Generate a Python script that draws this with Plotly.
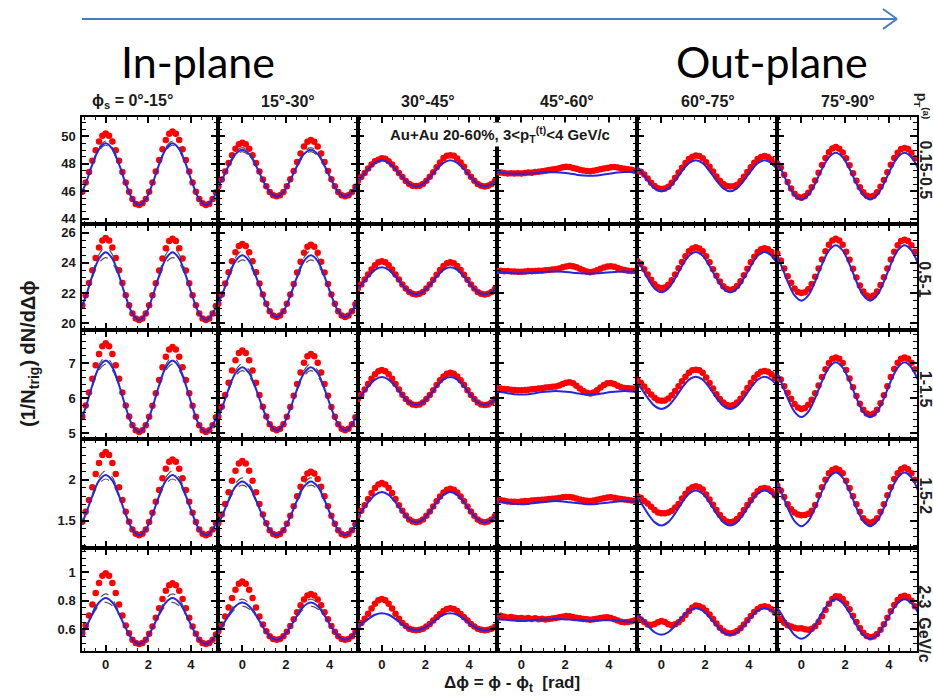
import plotly.graph_objects as go

# ---------------- data ----------------
dphi_pts = [-1.100, -0.942, -0.785, -0.628, -0.471, -0.314, -0.157, 0.0, 0.157, 0.314, 0.471, 0.628,
            0.785, 0.942, 1.100, 1.257, 1.414, 1.571, 1.728, 1.885, 2.042, 2.199, 2.356, 2.513,
            2.670, 2.827, 2.985, 3.142, 3.299, 3.456, 3.613, 3.770, 3.927, 4.084, 4.241, 4.398,
            4.555, 4.712, 4.869, 5.027, 5.184]
dphi_fit = [-1.257, -0.942, -0.628, -0.314, 0.0, 0.314, 0.628, 0.942, 1.257, 1.571, 1.885,
            2.199, 2.513, 2.827, 3.142, 3.456, 3.770, 4.084, 4.398, 4.712, 5.027, 5.341]
dphi_sys = [-0.628, -0.314, 0.0, 0.314, 0.628, None, 2.513, 2.827, 3.142, 3.456, 3.770]

phi_s_labels = ["ϕ<sub>s</sub> = 0°-15°", "15°-30°", "30°-45°", "45°-60°", "60°-75°", "75°-90°"]
pta_labels = ["0.15-0.5", "0.5-1", "1-1.5", "1.5-2", "2-3\u00a0\u00a0GeV/c"]
y_ranges = [[43.59, 51.43], [19.54, 26.55], [4.82, 7.94], [1.165, 2.495], [0.443, 1.172]]
y_major = [2, 2, 1, 0.5, 0.2]
y_minor = [0.5, 0.5, 0.2, 0.1, 0.05]

red_r1 = [
    [45.97, 46.63, 47.40, 48.22, 48.98, 49.62, 50.05, 50.20, 50.05, 49.62, 48.98, 48.22, 47.40, 46.63, 45.97, 45.43, 45.08, 45.00, 45.13, 45.43, 45.97, 46.64, 47.44, 48.27, 49.06, 49.73, 50.19, 50.35, 50.19, 49.73, 49.06, 48.27, 47.44, 46.64, 45.97, 45.43, 45.13, 45.00, 45.09, 45.43, 45.93],
    [46.36, 46.86, 47.44, 48.05, 48.62, 49.10, 49.42, 49.53, 49.42, 49.10, 48.62, 48.05, 47.44, 46.86, 46.36, 45.95, 45.71, 45.63, 45.71, 45.95, 46.37, 46.88, 47.48, 48.13, 48.74, 49.26, 49.61, 49.73, 49.61, 49.26, 48.74, 48.13, 47.48, 46.88, 46.37, 45.95, 45.71, 45.63, 45.71, 45.95, 46.33],
    [46.75, 47.03, 47.33, 47.65, 47.95, 48.19, 48.30, 48.40, 48.37, 48.19, 47.95, 47.65, 47.33, 47.03, 46.75, 46.53, 46.40, 46.38, 46.40, 46.53, 46.76, 47.05, 47.39, 47.74, 48.09, 48.42, 48.58, 48.62, 48.58, 48.38, 48.09, 47.78, 47.39, 47.05, 46.76, 46.53, 46.40, 46.35, 46.40, 46.53, 46.74],
    [47.38, 47.36, 47.33, 47.30, 47.31, 47.29, 47.32, 47.30, 47.33, 47.36, 47.35, 47.40, 47.42, 47.46, 47.50, 47.55, 47.58, 47.62, 47.68, 47.74, 47.78, 47.76, 47.70, 47.63, 47.57, 47.52, 47.48, 47.46, 47.50, 47.55, 47.60, 47.65, 47.70, 47.74, 47.76, 47.73, 47.68, 47.64, 47.60, 47.56, 47.50],
    [47.50, 47.42, 47.22, 46.92, 46.62, 46.38, 46.22, 46.17, 46.20, 46.33, 46.62, 46.98, 47.36, 47.72, 48.06, 48.34, 48.52, 48.60, 48.56, 48.40, 48.12, 47.78, 47.43, 47.08, 46.76, 46.52, 46.38, 46.34, 46.37, 46.48, 46.72, 47.05, 47.40, 47.75, 48.08, 48.34, 48.50, 48.56, 48.50, 48.32, 48.02],
    [48.00, 47.73, 47.20, 46.67, 46.20, 45.82, 45.60, 45.53, 45.63, 45.89, 46.30, 46.79, 47.35, 47.91, 48.42, 48.84, 49.12, 49.22, 49.10, 48.83, 48.40, 47.89, 47.32, 46.77, 46.30, 45.92, 45.68, 45.60, 45.68, 45.92, 46.32, 46.82, 47.38, 47.93, 48.42, 48.81, 49.07, 49.15, 49.07, 48.81, 48.40],
]
blue_r1 = [
    [45.43, 46.55, 47.95, 49.07, 49.50, 49.07, 47.95, 46.55, 45.43, 45.00, 45.43, 46.55, 47.95, 49.07, 49.50, 49.07, 47.95, 46.55, 45.43, 45.00, 45.43, 46.55],
    [45.95, 46.80, 47.86, 48.71, 49.03, 48.71, 47.86, 46.80, 45.95, 45.63, 45.95, 46.80, 47.86, 48.71, 49.03, 48.71, 47.86, 46.80, 45.95, 45.63, 45.95, 46.80],
    [46.53, 47.01, 47.59, 48.07, 48.25, 48.07, 47.59, 47.01, 46.53, 46.35, 46.53, 47.01, 47.59, 48.07, 48.25, 48.07, 47.59, 47.01, 46.53, 46.35, 46.53, 47.01],
    [47.38, 47.35, 47.31, 47.28, 47.27, 47.28, 47.32, 47.36, 47.38, 47.38, 47.35, 47.29, 47.21, 47.15, 47.12, 47.15, 47.22, 47.30, 47.37, 47.40, 47.39, 47.37],
    [48.04, 47.47, 46.78, 46.21, 46.00, 46.21, 46.78, 47.47, 48.04, 48.25, 48.04, 47.47, 46.78, 46.21, 46.00, 46.21, 46.78, 47.47, 48.04, 48.25, 48.04, 47.47],
    [48.48, 47.63, 46.57, 45.72, 45.40, 45.72, 46.57, 47.63, 48.48, 48.80, 48.48, 47.63, 46.57, 45.72, 45.40, 45.72, 46.57, 47.63, 48.48, 48.80, 48.48, 47.63],
]
red_r2 = [
    [21.18, 21.85, 22.66, 23.51, 24.32, 25.01, 25.48, 25.65, 25.48, 25.01, 24.32, 23.51, 22.66, 21.85, 21.18, 20.63, 20.31, 20.20, 20.31, 20.63, 21.18, 21.85, 22.65, 23.49, 24.29, 24.97, 25.44, 25.60, 25.44, 24.97, 24.29, 23.49, 22.65, 21.85, 21.18, 20.63, 20.31, 20.20, 20.31, 20.63, 21.13],
    [21.29, 21.90, 22.62, 23.37, 24.10, 24.70, 25.11, 25.25, 25.11, 24.70, 24.10, 23.37, 22.62, 21.90, 21.29, 20.79, 20.50, 20.40, 20.50, 20.79, 21.29, 21.90, 22.60, 23.35, 24.07, 24.66, 25.06, 25.20, 25.06, 24.66, 24.07, 23.35, 22.60, 21.90, 21.29, 20.79, 20.50, 20.40, 20.50, 20.79, 21.25],
    [22.29, 22.56, 22.89, 23.23, 23.56, 23.84, 24.04, 24.10, 24.04, 23.84, 23.56, 23.23, 22.89, 22.56, 22.29, 22.07, 21.94, 21.90, 21.94, 22.07, 22.29, 22.56, 22.87, 23.21, 23.52, 23.79, 23.97, 24.03, 23.97, 23.79, 23.52, 23.21, 22.87, 22.56, 22.29, 22.07, 21.94, 21.90, 21.94, 22.07, 22.27],
    [23.45, 23.47, 23.44, 23.46, 23.43, 23.42, 23.40, 23.41, 23.43, 23.45, 23.44, 23.46, 23.48, 23.47, 23.50, 23.52, 23.55, 23.58, 23.63, 23.70, 23.76, 23.80, 23.78, 23.70, 23.60, 23.50, 23.42, 23.38, 23.42, 23.50, 23.60, 23.69, 23.75, 23.77, 23.74, 23.66, 23.58, 23.52, 23.48, 23.46, 23.45],
    [24.10, 23.94, 23.58, 23.22, 22.87, 22.58, 22.38, 22.31, 22.36, 22.54, 22.84, 23.22, 23.64, 24.06, 24.44, 24.76, 24.95, 25.03, 24.95, 24.76, 24.43, 24.03, 23.58, 23.15, 22.76, 22.45, 22.26, 22.20, 22.26, 22.46, 22.78, 23.17, 23.60, 24.03, 24.41, 24.72, 24.90, 24.97, 24.90, 24.72, 24.41],
    [24.61, 24.15, 23.63, 23.11, 22.67, 22.30, 22.06, 21.99, 22.04, 22.24, 22.60, 23.08, 23.63, 24.22, 24.76, 25.20, 25.48, 25.59, 25.48, 25.20, 24.74, 24.20, 23.61, 23.02, 22.50, 22.09, 21.83, 21.74, 21.83, 22.09, 22.52, 23.04, 23.63, 24.22, 24.74, 25.17, 25.44, 25.53, 25.44, 25.17, 24.73],
]
blue_r2 = [
    [20.63, 21.75, 23.15, 24.27, 24.70, 24.27, 23.15, 21.75, 20.63, 20.20, 20.63, 21.75, 23.15, 24.27, 24.70, 24.27, 23.15, 21.75, 20.63, 20.20, 20.63, 21.75],
    [20.79, 21.82, 23.08, 24.11, 24.50, 24.11, 23.08, 21.82, 20.79, 20.40, 20.79, 21.82, 23.08, 24.11, 24.50, 24.11, 23.08, 21.82, 20.79, 20.40, 20.79, 21.82],
    [22.07, 22.52, 23.08, 23.53, 23.70, 23.53, 23.08, 22.52, 22.07, 21.90, 22.07, 22.52, 23.08, 23.53, 23.70, 23.53, 23.08, 22.52, 22.07, 21.90, 22.07, 22.52],
    [23.40, 23.37, 23.34, 23.31, 23.30, 23.31, 23.35, 23.39, 23.42, 23.42, 23.41, 23.37, 23.32, 23.29, 23.28, 23.30, 23.34, 23.38, 23.41, 23.42, 23.41, 23.39],
    [24.46, 23.79, 22.97, 22.30, 22.05, 22.30, 22.97, 23.79, 24.46, 24.71, 24.46, 23.79, 22.97, 22.30, 22.05, 22.30, 22.97, 23.79, 24.46, 24.71, 24.46, 23.79],
    [24.82, 23.90, 22.76, 21.84, 21.49, 21.84, 22.76, 23.90, 24.82, 25.17, 24.82, 23.90, 22.76, 21.84, 21.49, 21.84, 22.76, 23.90, 24.82, 25.17, 24.82, 23.90],
]
red_r3 = [
    [5.475, 5.789, 6.158, 6.551, 6.934, 7.257, 7.481, 7.560, 7.481, 7.257, 6.934, 6.551, 6.158, 5.789, 5.475, 5.225, 5.080, 5.030, 5.080, 5.225, 5.470, 5.778, 6.136, 6.513, 6.876, 7.179, 7.387, 7.460, 7.387, 7.179, 6.876, 6.513, 6.136, 5.778, 5.470, 5.225, 5.080, 5.030, 5.080, 5.225, 5.450],
    [5.475, 5.755, 6.086, 6.440, 6.787, 7.082, 7.287, 7.360, 7.287, 7.082, 6.787, 6.440, 6.086, 5.755, 5.475, 5.252, 5.124, 5.080, 5.124, 5.252, 5.470, 5.744, 6.064, 6.402, 6.729, 7.004, 7.193, 7.260, 7.193, 7.004, 6.729, 6.402, 6.064, 5.744, 5.470, 5.252, 5.124, 5.080, 5.124, 5.252, 5.451],
    [5.975, 6.098, 6.244, 6.400, 6.551, 6.680, 6.768, 6.800, 6.768, 6.680, 6.551, 6.400, 6.244, 6.098, 5.975, 5.876, 5.820, 5.800, 5.820, 5.876, 5.971, 6.089, 6.226, 6.370, 6.505, 6.618, 6.693, 6.720, 6.693, 6.618, 6.505, 6.370, 6.226, 6.089, 5.971, 5.876, 5.820, 5.800, 5.820, 5.876, 5.965],
    [6.28, 6.27, 6.26, 6.25, 6.24, 6.23, 6.22, 6.22, 6.23, 6.24, 6.25, 6.26, 6.27, 6.28, 6.30, 6.31, 6.32, 6.33, 6.36, 6.40, 6.44, 6.45, 6.42, 6.35, 6.27, 6.20, 6.15, 6.13, 6.16, 6.22, 6.30, 6.37, 6.42, 6.43, 6.40, 6.35, 6.31, 6.29, 6.28, 6.27, 6.27],
    [6.52, 6.44, 6.33, 6.21, 6.10, 6.01, 5.94, 5.92, 5.93, 5.99, 6.08, 6.20, 6.34, 6.48, 6.61, 6.72, 6.79, 6.81, 6.79, 6.72, 6.59, 6.43, 6.27, 6.11, 5.97, 5.87, 5.80, 5.78, 5.80, 5.87, 5.98, 6.13, 6.29, 6.44, 6.58, 6.68, 6.75, 6.77, 6.75, 6.68, 6.57],
    [6.58, 6.53, 6.34, 6.15, 5.98, 5.83, 5.73, 5.69, 5.72, 5.81, 5.95, 6.14, 6.36, 6.60, 6.82, 7.00, 7.12, 7.16, 7.12, 7.00, 6.80, 6.56, 6.31, 6.06, 5.84, 5.67, 5.56, 5.52, 5.56, 5.67, 5.85, 6.08, 6.34, 6.60, 6.83, 7.01, 7.12, 7.16, 7.12, 7.01, 6.82],
]
blue_r3 = [
    [5.225, 5.735, 6.365, 6.875, 7.070, 6.875, 6.365, 5.735, 5.225, 5.030, 5.225, 5.735, 6.365, 6.875, 7.070, 6.875, 6.365, 5.735, 5.225, 5.030, 5.225, 5.735],
    [5.252, 5.702, 6.258, 6.708, 6.880, 6.708, 6.258, 5.702, 5.252, 5.080, 5.252, 5.702, 6.258, 6.708, 6.880, 6.708, 6.258, 5.702, 5.252, 5.080, 5.252, 5.702],
    [5.876, 6.076, 6.324, 6.524, 6.600, 6.524, 6.324, 6.076, 5.876, 5.800, 5.876, 6.076, 6.324, 6.524, 6.600, 6.524, 6.324, 6.076, 5.876, 5.800, 5.876, 6.076],
    [6.19, 6.17, 6.14, 6.11, 6.10, 6.11, 6.14, 6.17, 6.19, 6.20, 6.19, 6.17, 6.14, 6.11, 6.10, 6.11, 6.14, 6.17, 6.19, 6.20, 6.19, 6.17],
    [6.522, 6.292, 6.008, 5.778, 5.690, 5.778, 6.008, 6.292, 6.522, 6.610, 6.522, 6.292, 6.008, 5.778, 5.690, 5.778, 6.008, 6.292, 6.522, 6.610, 6.522, 6.292],
    [6.871, 6.481, 5.999, 5.609, 5.460, 5.609, 5.999, 6.481, 6.871, 7.020, 6.871, 6.481, 5.999, 5.609, 5.460, 5.609, 5.999, 6.481, 6.871, 7.020, 6.871, 6.481],
]
red_r4 = [
    [1.486, 1.607, 1.752, 1.910, 2.070, 2.207, 2.305, 2.340, 2.305, 2.207, 2.070, 1.910, 1.752, 1.607, 1.486, 1.391, 1.338, 1.320, 1.338, 1.391, 1.482, 1.597, 1.732, 1.876, 2.018, 2.137, 2.221, 2.250, 2.221, 2.137, 2.018, 1.876, 1.732, 1.597, 1.482, 1.391, 1.338, 1.320, 1.338, 1.391, 1.472],
    [1.469, 1.576, 1.705, 1.847, 1.989, 2.112, 2.199, 2.230, 2.199, 2.112, 1.989, 1.847, 1.705, 1.576, 1.469, 1.383, 1.336, 1.320, 1.336, 1.383, 1.462, 1.561, 1.676, 1.798, 1.914, 2.011, 2.077, 2.100, 2.077, 2.011, 1.914, 1.798, 1.676, 1.561, 1.462, 1.383, 1.336, 1.320, 1.336, 1.383, 1.456],
    [1.562, 1.620, 1.689, 1.764, 1.838, 1.901, 1.944, 1.960, 1.944, 1.901, 1.838, 1.764, 1.689, 1.620, 1.562, 1.515, 1.489, 1.480, 1.489, 1.515, 1.558, 1.612, 1.674, 1.737, 1.797, 1.846, 1.879, 1.890, 1.879, 1.846, 1.797, 1.737, 1.674, 1.612, 1.558, 1.515, 1.489, 1.480, 1.489, 1.515, 1.556],
    [1.745, 1.748, 1.742, 1.735, 1.730, 1.732, 1.728, 1.735, 1.740, 1.738, 1.745, 1.750, 1.752, 1.755, 1.760, 1.765, 1.768, 1.772, 1.778, 1.785, 1.790, 1.788, 1.782, 1.770, 1.760, 1.750, 1.742, 1.740, 1.745, 1.755, 1.765, 1.775, 1.782, 1.785, 1.780, 1.772, 1.765, 1.758, 1.752, 1.745, 1.742],
    [1.80, 1.78, 1.74, 1.71, 1.67, 1.63, 1.60, 1.59, 1.59, 1.60, 1.62, 1.66, 1.705, 1.77, 1.83, 1.88, 1.91, 1.92, 1.91, 1.88, 1.82, 1.76, 1.695, 1.63, 1.57, 1.52, 1.49, 1.48, 1.49, 1.52, 1.57, 1.63, 1.69, 1.75, 1.81, 1.86, 1.89, 1.90, 1.89, 1.86, 1.81],
    [1.93, 1.87, 1.79, 1.70, 1.64, 1.60, 1.575, 1.565, 1.57, 1.585, 1.62, 1.69, 1.81, 1.91, 2.00, 2.08, 2.12, 2.14, 2.12, 2.08, 1.99, 1.90, 1.80, 1.70, 1.61, 1.53, 1.49, 1.47, 1.49, 1.53, 1.61, 1.70, 1.81, 1.91, 2.01, 2.08, 2.13, 2.15, 2.13, 2.08, 2.00],
]
blue_r4 = [
    [1.391, 1.576, 1.804, 1.989, 2.060, 1.989, 1.804, 1.576, 1.391, 1.320, 1.391, 1.576, 1.804, 1.989, 2.060, 1.989, 1.804, 1.576, 1.391, 1.320, 1.391, 1.576],
    [1.383, 1.548, 1.752, 1.917, 1.980, 1.917, 1.752, 1.548, 1.383, 1.320, 1.383, 1.548, 1.752, 1.917, 1.980, 1.917, 1.752, 1.548, 1.383, 1.320, 1.383, 1.548],
    [1.515, 1.608, 1.722, 1.815, 1.850, 1.815, 1.722, 1.608, 1.515, 1.480, 1.515, 1.608, 1.722, 1.815, 1.850, 1.815, 1.722, 1.608, 1.515, 1.480, 1.515, 1.608],
    [1.740, 1.730, 1.720, 1.705, 1.700, 1.705, 1.715, 1.725, 1.735, 1.740, 1.735, 1.725, 1.715, 1.705, 1.700, 1.705, 1.715, 1.725, 1.735, 1.740, 1.735, 1.730],
    [1.829, 1.721, 1.589, 1.481, 1.440, 1.481, 1.589, 1.721, 1.829, 1.870, 1.829, 1.721, 1.589, 1.481, 1.440, 1.481, 1.589, 1.721, 1.829, 1.870, 1.829, 1.721],
    [2.027, 1.862, 1.658, 1.493, 1.430, 1.493, 1.658, 1.862, 2.027, 2.090, 2.027, 1.862, 1.658, 1.493, 1.430, 1.493, 1.658, 1.862, 2.027, 2.090, 2.027, 1.862],
]
red_r5 = [
    [0.571, 0.626, 0.696, 0.774, 0.854, 0.925, 0.976, 0.994, 0.976, 0.925, 0.854, 0.774, 0.696, 0.626, 0.571, 0.526, 0.503, 0.495, 0.503, 0.526, 0.567, 0.619, 0.680, 0.747, 0.813, 0.870, 0.910, 0.924, 0.910, 0.870, 0.813, 0.747, 0.680, 0.619, 0.567, 0.526, 0.503, 0.495, 0.503, 0.526, 0.562],
    [0.586, 0.632, 0.689, 0.752, 0.819, 0.877, 0.920, 0.935, 0.920, 0.877, 0.819, 0.752, 0.689, 0.632, 0.586, 0.550, 0.531, 0.525, 0.531, 0.550, 0.582, 0.623, 0.669, 0.719, 0.768, 0.809, 0.837, 0.847, 0.837, 0.809, 0.768, 0.719, 0.669, 0.623, 0.582, 0.550, 0.531, 0.525, 0.531, 0.550, 0.579],
    [0.622, 0.644, 0.674, 0.709, 0.745, 0.779, 0.803, 0.812, 0.803, 0.779, 0.745, 0.709, 0.674, 0.644, 0.622, 0.603, 0.595, 0.592, 0.595, 0.603, 0.619, 0.637, 0.660, 0.684, 0.707, 0.728, 0.742, 0.747, 0.742, 0.728, 0.707, 0.684, 0.660, 0.637, 0.619, 0.603, 0.595, 0.592, 0.595, 0.603, 0.617],
    [0.690, 0.695, 0.688, 0.682, 0.686, 0.680, 0.676, 0.678, 0.674, 0.679, 0.672, 0.676, 0.670, 0.673, 0.668, 0.672, 0.675, 0.678, 0.683, 0.688, 0.692, 0.690, 0.686, 0.680, 0.676, 0.672, 0.669, 0.666, 0.670, 0.674, 0.678, 0.682, 0.684, 0.678, 0.670, 0.660, 0.652, 0.648, 0.650, 0.656, 0.662],
    [0.690, 0.668, 0.650, 0.632, 0.630, 0.636, 0.648, 0.658, 0.650, 0.634, 0.628, 0.634, 0.648, 0.672, 0.700, 0.728, 0.752, 0.766, 0.762, 0.750, 0.730, 0.704, 0.672, 0.640, 0.610, 0.588, 0.574, 0.570, 0.575, 0.587, 0.606, 0.632, 0.662, 0.692, 0.720, 0.742, 0.756, 0.762, 0.756, 0.740, 0.716],
    [0.705, 0.672, 0.645, 0.628, 0.618, 0.610, 0.604, 0.607, 0.600, 0.596, 0.602, 0.620, 0.650, 0.690, 0.735, 0.778, 0.812, 0.832, 0.830, 0.812, 0.780, 0.740, 0.695, 0.650, 0.608, 0.575, 0.552, 0.543, 0.548, 0.565, 0.595, 0.635, 0.680, 0.726, 0.770, 0.806, 0.828, 0.836, 0.826, 0.800, 0.762],
]
blue_r5 = [
    [0.526, 0.607, 0.707, 0.788, 0.819, 0.788, 0.707, 0.607, 0.526, 0.495, 0.526, 0.607, 0.707, 0.788, 0.819, 0.788, 0.707, 0.607, 0.526, 0.495, 0.526, 0.607],
    [0.550, 0.616, 0.696, 0.762, 0.787, 0.762, 0.696, 0.616, 0.550, 0.525, 0.550, 0.616, 0.696, 0.762, 0.787, 0.762, 0.696, 0.616, 0.550, 0.525, 0.550, 0.616],
    [0.603, 0.633, 0.671, 0.701, 0.712, 0.701, 0.671, 0.633, 0.603, 0.592, 0.603, 0.633, 0.671, 0.701, 0.712, 0.701, 0.671, 0.633, 0.603, 0.592, 0.603, 0.633],
    [0.670, 0.668, 0.664, 0.660, 0.658, 0.660, 0.664, 0.668, 0.670, 0.671, 0.670, 0.667, 0.663, 0.660, 0.658, 0.660, 0.662, 0.663, 0.660, 0.655, 0.652, 0.655],
    [0.730, 0.683, 0.625, 0.578, 0.560, 0.578, 0.625, 0.683, 0.730, 0.748, 0.730, 0.683, 0.625, 0.578, 0.560, 0.578, 0.625, 0.683, 0.730, 0.748, 0.730, 0.683],
    [0.783, 0.714, 0.628, 0.559, 0.532, 0.559, 0.628, 0.714, 0.783, 0.810, 0.783, 0.714, 0.628, 0.559, 0.532, 0.559, 0.628, 0.714, 0.783, 0.810, 0.783, 0.714],
]
# systematic (dashed) curves near the peaks, first two columns
sys_hi = [
    [[48.00, 49.19, 49.65, 49.19, 48.00, None, 48.00, 49.19, 49.65, 49.19, 48.00],
     [47.91, 48.83, 49.18, 48.83, 47.91, None, 47.91, 48.83, 49.18, 48.83, 47.91]],
    [[23.26, 24.55, 25.05, 24.55, 23.26, None, 23.26, 24.55, 25.05, 24.55, 23.26],
     [23.17, 24.35, 24.80, 24.35, 23.17, None, 23.17, 24.35, 24.80, 24.35, 23.17]],
    [[6.396, 6.956, 7.17, 6.956, 6.396, None, 6.396, 6.956, 7.17, 6.956, 6.396],
     [6.289, 6.789, 6.98, 6.789, 6.289, None, 6.289, 6.789, 6.98, 6.789, 6.289]],
    [[1.819, 2.029, 2.11, 2.029, 1.819, None, 1.819, 2.029, 2.11, 2.029, 1.819],
     [1.766, 1.953, 2.025, 1.953, 1.766, None, 1.766, 1.953, 2.025, 1.953, 1.766]],
    [[0.716, 0.812, 0.849, 0.812, 0.716, None, 0.716, 0.812, 0.849, 0.812, 0.716],
     [0.704, 0.782, 0.812, 0.782, 0.704, None, 0.704, 0.782, 0.812, 0.782, 0.704]],
]
sys_lo = [
    [[47.90, 48.95, 49.35, 48.95, 47.90, None, 47.90, 48.95, 49.35, 48.95, 47.90],
     [47.81, 48.59, 48.88, 48.59, 47.81, None, 47.81, 48.59, 48.88, 48.59, 47.81]],
    [[23.04, 23.99, 24.35, 23.99, 23.04, None, 23.04, 23.99, 24.35, 23.99, 23.04],
     [22.99, 23.87, 24.20, 23.87, 22.99, None, 22.99, 23.87, 24.20, 23.87, 22.99]],
    [[6.334, 6.794, 6.97, 6.794, 6.334, None, 6.334, 6.794, 6.97, 6.794, 6.334],
     [6.227, 6.627, 6.78, 6.627, 6.227, None, 6.227, 6.627, 6.78, 6.627, 6.227]],
    [[1.789, 1.949, 2.01, 1.949, 1.789, None, 1.789, 1.949, 2.01, 1.949, 1.789],
     [1.738, 1.881, 1.935, 1.881, 1.738, None, 1.738, 1.881, 1.935, 1.881, 1.738]],
    [[0.698, 0.764, 0.789, 0.764, 0.698, None, 0.698, 0.764, 0.789, 0.764, 0.698],
     [0.688, 0.742, 0.762, 0.742, 0.688, None, 0.688, 0.742, 0.762, 0.742, 0.688]],
]

red_rows = [red_r1, red_r2, red_r3, red_r4, red_r5]
blue_rows = [blue_r1, blue_r2, blue_r3, blue_r4, blue_r5]

# ---------------- layout ----------------
W, H = 933, 699
col_px = [82, 218, 357.5, 497, 637, 777, 917]
row_px = [117, 225, 331, 440.7, 549.5, 653.3]


def fx(px):
    return px / W


def fy(py):
    return 1 - py / H


FONT = "Liberation Sans"
tickfont = dict(family=FONT, size=13, color="#1a1a1a", weight="bold")

fig = go.Figure()
layout = {}
for r in range(5):
    for c in range(6):
        n = r * 6 + c + 1
        xa = "x" if n == 1 else f"x{n}"
        ya = "y" if n == 1 else f"y{n}"
        fig.add_trace(go.Scatter(
            x=dphi_pts, y=red_rows[r][c], mode="markers", xaxis=xa, yaxis=ya,
            marker=dict(color="#ff0000", size=6.5, line=dict(width=0)),
            showlegend=False, hoverinfo="skip"))
        if c < 2:
            for arr in (sys_hi, sys_lo):
                fig.add_trace(go.Scatter(
                    x=dphi_sys, y=arr[r][c], mode="lines", xaxis=xa, yaxis=ya,
                    line=dict(color="#555555", width=1.2, dash="dash", shape="spline"),
                    connectgaps=False, showlegend=False, hoverinfo="skip"))
        fig.add_trace(go.Scatter(
            x=dphi_fit, y=blue_rows[r][c], mode="lines", xaxis=xa, yaxis=ya,
            line=dict(color="#2626e0", width=2, shape="spline"),
            showlegend=False, hoverinfo="skip"))

        common = dict(showline=True, linecolor="black", linewidth=1.5, mirror="allticks",
                      ticks="inside", ticklen=7, tickwidth=1.5, tickcolor="black",
                      showgrid=False, zeroline=False, tickfont=tickfont)
        xkey = "xaxis" if n == 1 else f"xaxis{n}"
        ykey = "yaxis" if n == 1 else f"yaxis{n}"
        layout[xkey] = dict(common, domain=[fx(col_px[c]), fx(col_px[c + 1])], anchor=ya,
                            range=[-1.115, 5.28], tick0=0, dtick=2,
                            showticklabels=(r == 4),
                            minor=dict(ticks="inside", ticklen=4, tickwidth=1.2,
                                       tickcolor="black", tick0=0, dtick=0.5, showgrid=False))
        layout[ykey] = dict(common, domain=[fy(row_px[r + 1]), fy(row_px[r])], anchor=xa,
                            range=y_ranges[r], tick0=0, dtick=y_major[r],
                            showticklabels=(c == 0), ticklabelstandoff=2,
                            minor=dict(ticks="inside", ticklen=4, tickwidth=1.2,
                                       tickcolor="black", tick0=0, dtick=y_minor[r], showgrid=False))


def label(x, y, text, size, family=FONT, color="#1a1a1a", angle=0, bg=None):
    d = dict(x=fx(x), y=fy(y), xref="paper", yref="paper", text=text, showarrow=False,
             xanchor="center", yanchor="middle", textangle=angle,
             font=dict(family=family, size=size, color=color))
    if bg:
        d.update(bgcolor=bg, borderpad=1)
    return d


annotations = []
col_label_x = [132, 288, 428, 567, 708, 848]
for c in range(6):
    annotations.append(label(col_label_x[c], 102, f"<b>{phi_s_labels[c]}</b>", 16))
row_label_y = [170, 280, 390, 497, 625]
for r in range(5):
    annotations.append(label(925, row_label_y[r], f"<b>{pta_labels[r]}</b>", 16, color="#222", angle=90))
annotations += [
    label(922, 106, "<b>p<sub>T</sub><sup>(a)</sup></b>", 14, color="#222", angle=90),
    label(30, 355, "<b>(1/N<sub>trig</sub>) dN/dΔϕ</b>", 20, angle=-90),
    label(512, 686, "<b>Δϕ = ϕ - ϕ<sub>t</sub>\u00a0\u00a0[rad]</b>", 17),
    label(500, 135, "<b>Au+Au 20-60%, 3&lt;p<sub>T</sub><sup>(t)</sup>&lt;4 GeV/c</b>", 15, bg="white"),
    label(198, 62, "In-plane", 43, family="Lato", color="black"),
    label(772, 62, "Out-plane", 43, family="Lato", color="black"),
]

arrow_col = "#4a7ebb"
shapes = [
    dict(type="line", xref="paper", yref="paper", x0=fx(82), y0=fy(19), x1=fx(897), y1=fy(19),
         line=dict(color=arrow_col, width=2)),
    dict(type="line", xref="paper", yref="paper", x0=fx(883), y0=fy(9), x1=fx(897), y1=fy(19),
         line=dict(color=arrow_col, width=2)),
    dict(type="line", xref="paper", yref="paper", x0=fx(883), y0=fy(29), x1=fx(897), y1=fy(19),
         line=dict(color=arrow_col, width=2)),
]

fig.update_layout(width=W, height=H, margin=dict(l=0, r=0, t=0, b=0),
                  paper_bgcolor="white", plot_bgcolor="white", showlegend=False,
                  annotations=annotations, shapes=shapes, **layout)
fig.write_html("out.html", config={"displayModeBar": False},
               post_script="document.body.style.margin='0px';document.body.style.padding='0px';")
